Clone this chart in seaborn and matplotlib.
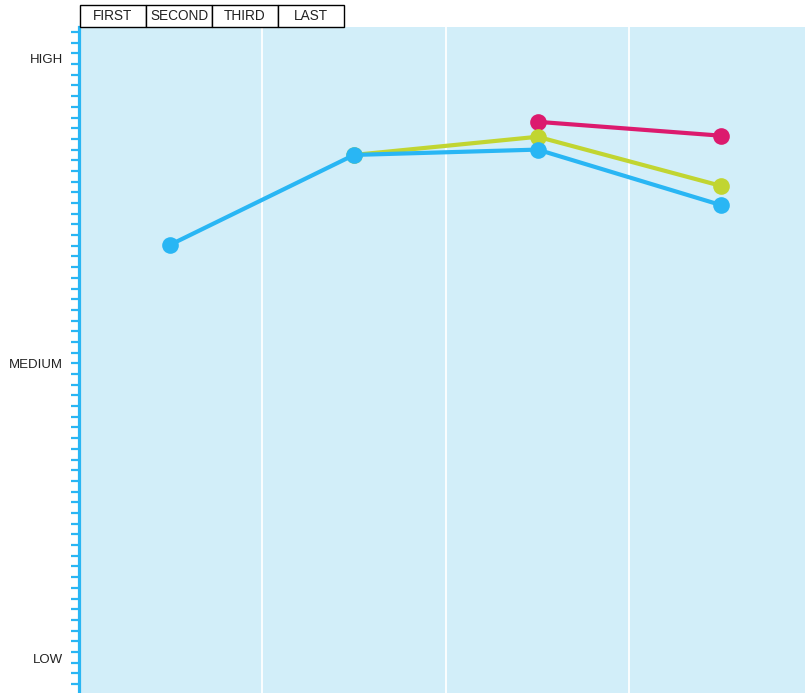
import matplotlib
matplotlib.use("Agg")
import matplotlib.pyplot as plt
from matplotlib.patches import Rectangle
import seaborn as sns
import pandas as pd
import numpy as np

# ---- data ----
stages = ["FIRST", "SECOND", "THIRD", "LAST"]
level_labels = ["LOW", "MEDIUM", "HIGH"]
level_positions = [2.4, 30.0, 58.55]
blue_values = [41.1, 49.5, 50.0, 44.8]
green_values = [None, 49.5, 51.2, 46.6]
magenta_values = [None, None, 52.6, 51.3]

series = [
    ("magenta", magenta_values, "#dc1a6e"),
    ("green", green_values, "#c1d531"),
    ("blue", blue_values, "#29b6f4"),
]

sns.set_theme(style="white")
plt.rcParams["font.family"] = ["Liberation Sans", "DejaVu Sans"]

W, H = 805, 693
fig = plt.figure(figsize=(W / 100, H / 100), dpi=100)
ax = fig.add_axes([78.5 / W, 0, (W - 78.5) / W, 1 - 27 / H])
ax.set_facecolor("#d2eef9")

for name, vals, col in series:
    df = pd.DataFrame({"x": range(len(stages)), "y": vals}).dropna()
    sns.lineplot(data=df, x="x", y="y", ax=ax, color=col, linewidth=3,
                 marker="o", markersize=12, markeredgewidth=0, zorder=3)

ax.set_xlim(-0.5, 3.456)
ax.set_ylim(-0.84, 61.47)
ax.set_xlabel("")
ax.set_ylabel("")
ax.set_xticks([])
for xv in [0.5, 1.5, 2.5]:
    ax.axvline(xv, color="white", linewidth=1.3, zorder=1)

for s in ["top", "right", "bottom"]:
    ax.spines[s].set_visible(False)
ax.spines["left"].set_color("#29b6f4")
ax.spines["left"].set_linewidth(2.3)

ax.yaxis.remove_overlapping_locs = False
ax.set_yticks(level_positions)
ax.set_yticklabels(level_labels, fontsize=9.5, color="#222222")
ax.set_yticks(np.arange(0, 62), minor=True)
ax.tick_params(axis="y", which="major", length=0, pad=11)
ax.tick_params(axis="y", which="minor", length=6, width=1.6, color="#29b6f4", left=True)

# header boxes
box_w = 66
for i, lab in enumerate(stages):
    x0 = 80 + i * box_w
    rect = Rectangle((x0 / W, 1 - 27 / H), box_w / W, 22 / H, transform=fig.transFigure,
                     facecolor="white", edgecolor="black", linewidth=1.0)
    fig.patches.append(rect)
    fig.text((x0 + box_w / 2) / W, 1 - 16 / H, lab, ha="center", va="center",
             fontsize=9.8, color="#222222")

fig.savefig("out.png", dpi=100)
